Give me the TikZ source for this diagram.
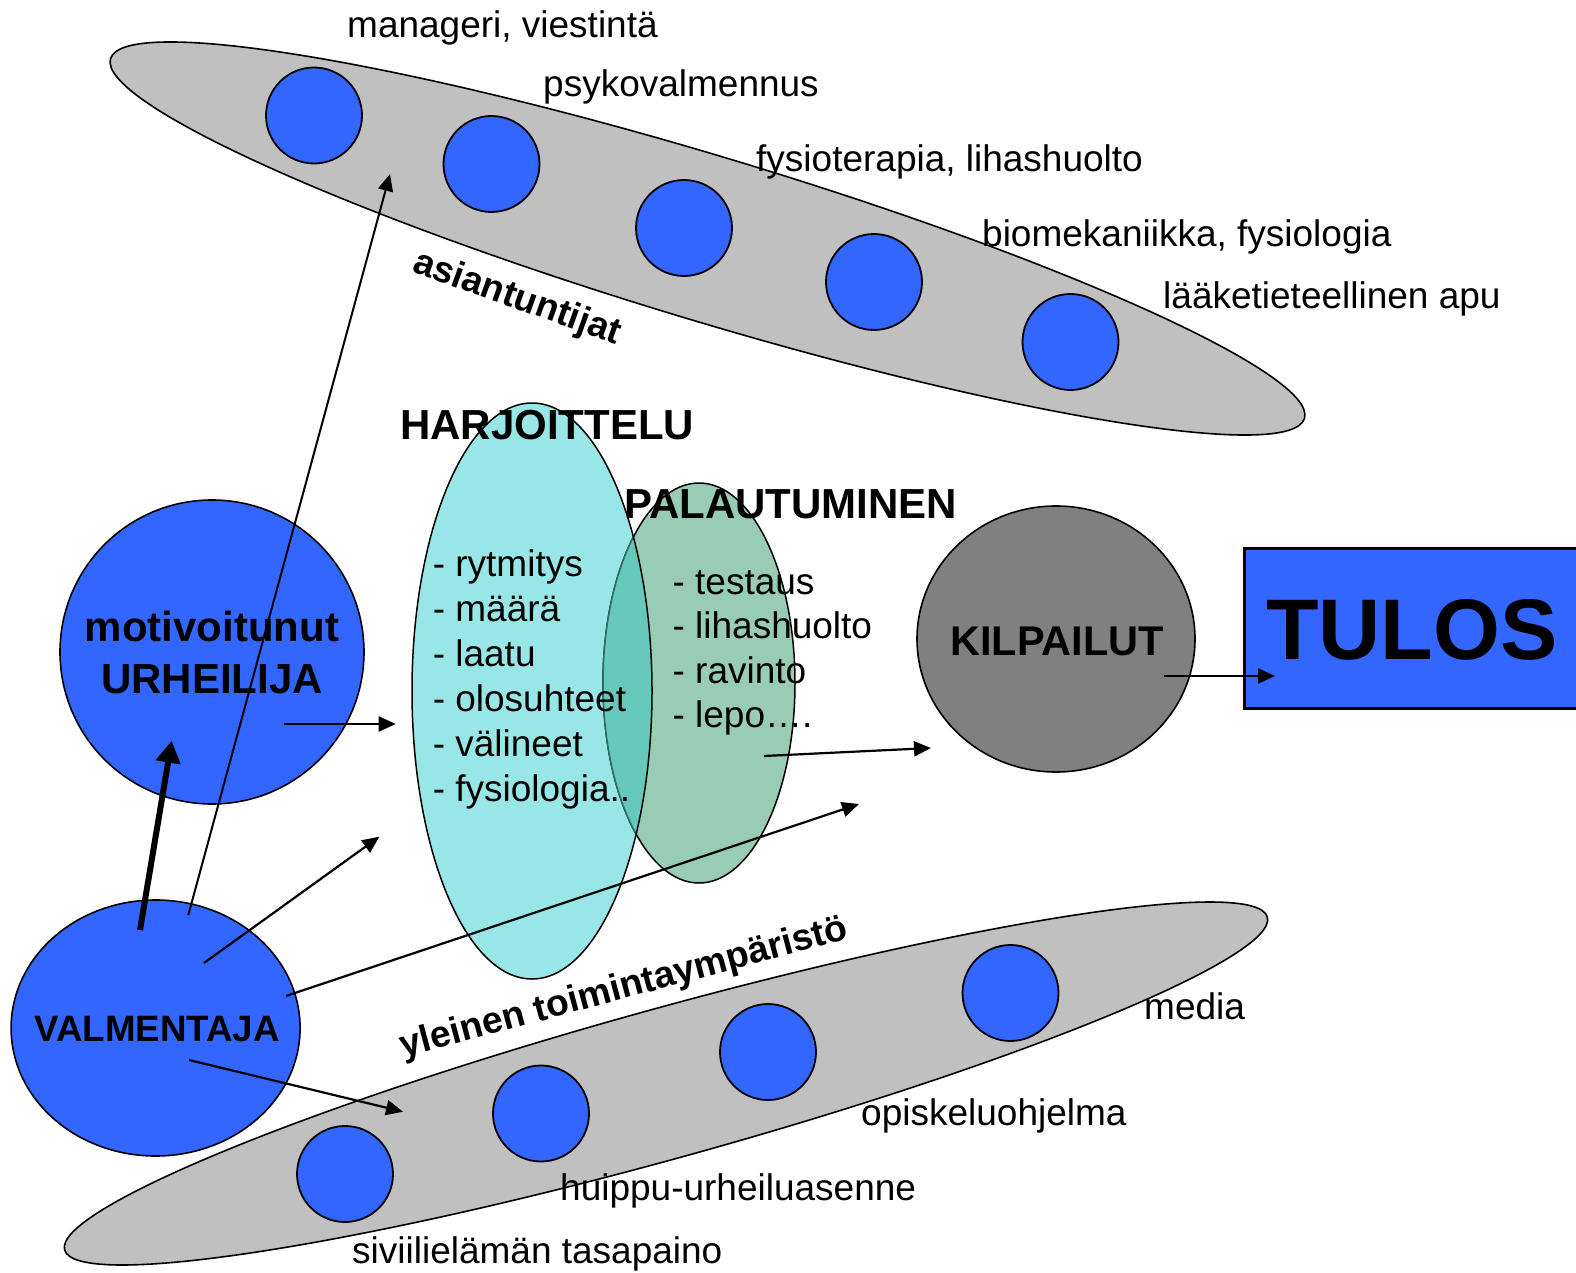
\documentclass[tikz,border=0pt]{standalone}
\usepackage{fontspec}
\setmainfont{Liberation Sans}
\usetikzlibrary{shapes.geometric,arrows.meta}
\definecolor{blueC}{HTML}{3366FF}
\definecolor{greyC}{HTML}{C0C0C0}
\definecolor{cyanC}{HTML}{99E6E6}
\definecolor{greenC}{HTML}{99CCB4}
\definecolor{overC}{HTML}{66C9BC}
\definecolor{tealline}{HTML}{2E6E68}
\definecolor{kilpC}{HTML}{808080}
\begin{document}
\begin{tikzpicture}[x=1pt,y=-1pt,
  lbl/.style={font=\fontsize{37}{44}\selectfont, inner sep=0pt, anchor=base west},
  bld/.style={font=\bfseries\fontsize{#1}{#1}\selectfont, inner sep=0pt},
  dot/.style={circle, draw, line width=1.8pt, fill=blueC, minimum size=96pt, inner sep=0pt},
  band/.style={ellipse, draw, line width=1.6pt, fill=greyC, inner sep=0pt},
  arr/.style={line width=2.2pt, -{Triangle[length=17pt,width=15pt]}},
  thickarr/.style={line width=6pt, -{Triangle[length=22pt,width=24pt]}}]
\useasboundingbox (0,0) rectangle (1576,1273);
\clip (0,0) rectangle (1576,1273);

% grey bands
\node[band, minimum width=1247pt, minimum height=165pt, rotate=-16.77] (experts) at (707.5,238.5) {};
\node[band, minimum width=1248pt, minimum height=150pt, rotate=15.47] (env) at (666,1083.5) {};

% dots in bands
\node[dot] (d1) at (314,115.5) {};
\node[dot] (d2) at (491.5,164) {};
\node[dot] (d3) at (684,228) {};
\node[dot] (d4) at (874,282) {};
\node[dot] (d5) at (1070.5,342) {};
\node[dot] (e1) at (345,1174) {};
\node[dot] (e2) at (541,1113.5) {};
\node[dot] (e3) at (768,1052) {};
\node[dot] (e4) at (1010.5,993) {};

% athlete and coach
\node[circle, draw, line width=1.6pt, fill=blueC, minimum size=304pt, inner sep=0pt] (urh) at (212,652) {};
\node[ellipse, draw, line width=1.6pt, fill=blueC, minimum width=289pt, minimum height=256pt, inner sep=0pt] (val) at (155.6,1028) {};

% training and recovery
\node[ellipse, fill=cyanC, minimum width=240pt, minimum height=576pt, inner sep=0pt] (harj) at (532,691) {};
\node[ellipse, draw, line width=1.5pt, fill=greenC, minimum width=192pt, minimum height=400pt, inner sep=0pt] (pal) at (699,683) {};
\begin{scope}
  \clip (harj.center) ellipse [x radius=120, y radius=288];
  \fill[overC] (pal.center) ellipse [x radius=96, y radius=200];
  \draw[tealline, line width=1.5pt] (pal.center) ellipse [x radius=96, y radius=200];
\end{scope}
\draw[line width=1.5pt] (harj.center) ellipse [x radius=120, y radius=288];

% competitions and result
\node[ellipse, draw, line width=1.6pt, fill=kilpC, minimum width=278pt, minimum height=266pt, inner sep=0pt] (kilp) at (1056,639) {};
\node[rectangle, draw, line width=3pt, fill=blueC, minimum width=350pt, minimum height=160pt, inner sep=0pt, anchor=north west] (tulos) at (1243,547) {};

% texts
\node[lbl] (t1) at (347,38) {manageri, viestintä};
\node[lbl] (t2) at (543,97) {psykovalmennus};
\node[lbl] (t3) at (756,172) {fysioterapia, lihashuolto};
\node[lbl] (t4) at (982,247) {biomekaniikka, fysiologia};
\node[lbl] (t5) at (1163,308) {lääketieteellinen apu};
\node[lbl] (b1) at (1144,1019) {media};
\node[lbl] (b2) at (861,1125) {opiskeluohjelma};
\node[lbl] (b3) at (560,1200) {huippu-urheiluasenne};
\node[lbl] (b4) at (352,1263) {siviilielämän tasapaino};

\node[bld=37, anchor=base west, rotate=-19.8] (asi) at (411,271) {asiantuntijat};
\node[bld=37.3, anchor=base west, rotate=15] (yle) at (403,1058) {yleinen toimintaympäristö};

\node[bld=42, anchor=base west] (hl) at (400,439) {HARJOITTELU};
\node[bld=42, anchor=base west] (pl) at (624,518) {PALAUTUMINEN};

\foreach \t [count=\i from 0] in {rytmitys,määrä,laatu,olosuhteet,välineet,fysiologia..}
  \node[lbl] (h\i) at (432.6,576+45*\i) {- \t};
\foreach \t [count=\i from 0] in {testaus,lihashuolto,ravinto,lepo….}
  \node[lbl] (p\i) at (672.4,594+44.5*\i) {- \t};

\node[bld=42, anchor=base] (u1) at (212,641) {motivoitunut};
\node[bld=42, anchor=base] (u2) at (212,693) {URHEILIJA};
\node[bld=36.7, anchor=base] (vt) at (157,1041.7) {VALMENTAJA};
\node[bld=41.5, anchor=base] (kt) at (1057,655) {KILPAILUT};
\node[bld=86, anchor=base] (tt) at (1412,659) {TULOS};

% arrows
\coordinate (a1s) at (140,930);   \coordinate (a1e) at (171.7,740.7);
\coordinate (a2s) at (188.3,915); \coordinate (a2e) at (390,174);
\coordinate (a3s) at (284,724);   \coordinate (a3e) at (395.7,724);
\coordinate (a4s) at (204,963);   \coordinate (a4e) at (379.3,836.7);
\coordinate (a5s) at (286,996);   \coordinate (a5e) at (859,804);
\coordinate (a6s) at (189,1060);  \coordinate (a6e) at (403,1111.7);
\coordinate (a7s) at (764,756);   \coordinate (a7e) at (931,748);
\coordinate (a8s) at (1164,676);  \coordinate (a8e) at (1275,676);

\draw[thickarr] (a1s) -- (a1e);
\draw[arr, line width=2pt] (a2s) -- (a2e);
\draw[arr] (a3s) -- (a3e);
\draw[arr] (a4s) -- (a4e);
\draw[arr] (a5s) -- (a5e);
\draw[arr] (a6s) -- (a6e);
\draw[arr] (a7s) -- (a7e);
\draw[arr] (a8s) -- (a8e);
\end{tikzpicture}
\end{document}
